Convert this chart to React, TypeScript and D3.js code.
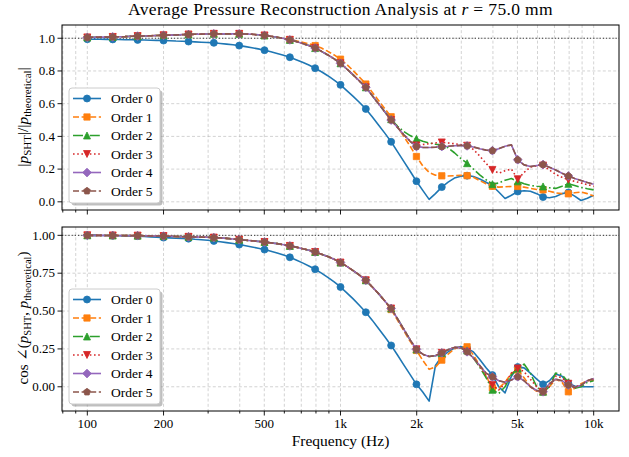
import React from 'react';
import * as d3 from 'd3';

// ---- data -------------------------------------------------------------
const orderLabels = ['Order 0', 'Order 1', 'Order 2', 'Order 3', 'Order 4', 'Order 5'];

// analysis frequencies (Hz), 40 per decade; every 4th one carries a marker
const freqs = [
  100, 106, 112, 119, 126, 133, 141, 150, 158, 168, 178, 188, 200, 211, 224, 237, 251, 266, 282, 299,
  316, 335, 355, 376, 398, 422, 447, 473, 501, 531, 562, 596, 631, 668, 708, 750, 794, 841, 891, 944,
  1000, 1059, 1122, 1189, 1259, 1334, 1413, 1496, 1585, 1679, 1778, 1884, 1995, 2113, 2239, 2371, 2512, 2661, 2818, 2985,
  3162, 3350, 3548, 3758, 3981, 4217, 4467, 4732, 5012, 5309, 5623, 5957, 6310, 6683, 7079, 7499, 7943, 8414, 8913, 9441,
  10000,
];

// |p_SHT| / |p_theoretical|
const magOrder0 = [
  .994, .994, .994, .993, .993, .992, .991, .991, .990, .989, .988, .987, .986, .985, .983, .982, .980, .978, .976, .974,
  .972, .968, .964, .960, .955, .949, .942, .935, .927, .917, .907, .896, .884, .869, .853, .836, .817, .795, .771, .744,
  .715, .680, .645, .607, .568, .520, .470, .420, .367, .307, .247, .187, .126, .070, .015, .050, .090, .120, .145, .157,
  .160, .155, .140, .120, .098, .060, .020, .040, .063, .068, .065, .050, .029, .025, .032, .050, .057, .035, .008, .022,
  .040,
];
const magOrder1 = [
  1.005, 1.006, 1.007, 1.007, 1.008, 1.009, 1.010, 1.012, 1.013, 1.014, 1.015, 1.017, 1.018, 1.019, 1.020, 1.022, 1.023, 1.024, 1.025, 1.026,
  1.027, 1.027, 1.027, 1.027, 1.027, 1.026, 1.024, 1.021, 1.017, 1.012, 1.006, .999, .992, .984, .975, .966, .955, .940, .920, .898,
  .872, .840, .802, .762, .720, .670, .620, .570, .520, .460, .400, .340, .277, .220, .180, .163, .159, .158, .160, .162,
  .160, .150, .130, .110, .095, .090, .092, .094, .094, .090, .082, .075, .073, .065, .055, .050, .049, .055, .060, .050,
  .035,
];
const magOrder2 = [
  1.005, 1.006, 1.007, 1.007, 1.008, 1.009, 1.010, 1.012, 1.013, 1.014, 1.015, 1.017, 1.018, 1.019, 1.020, 1.022, 1.023, 1.024, 1.025, 1.026,
  1.027, 1.027, 1.027, 1.027, 1.027, 1.026, 1.024, 1.021, 1.017, 1.012, 1.006, .999, .990, .980, .968, .955, .940, .920, .898, .874,
  .847, .812, .776, .738, .700, .650, .600, .550, .505, .462, .430, .405, .385, .370, .360, .352, .348, .330, .300, .265,
  .236, .200, .165, .135, .108, .115, .132, .142, .125, .110, .100, .095, .094, .086, .082, .095, .110, .100, .088, .080,
  .073,
];
const magOrder3 = [
  1.005, 1.006, 1.007, 1.007, 1.008, 1.009, 1.010, 1.012, 1.013, 1.014, 1.015, 1.017, 1.018, 1.019, 1.020, 1.022, 1.023, 1.024, 1.025, 1.026,
  1.027, 1.027, 1.027, 1.027, 1.027, 1.026, 1.024, 1.021, 1.017, 1.012, 1.006, .999, .990, .980, .968, .955, .940, .920, .898, .874,
  .847, .812, .776, .738, .700, .650, .600, .550, .500, .455, .410, .372, .345, .350, .355, .360, .363, .360, .355, .350,
  .343, .320, .280, .235, .195, .175, .190, .200, .138, .180, .212, .220, .222, .195, .168, .150, .135, .125, .115, .105,
  .095,
];
const magOrder4 = [
  1.005, 1.006, 1.007, 1.007, 1.008, 1.009, 1.010, 1.012, 1.013, 1.014, 1.015, 1.017, 1.018, 1.019, 1.020, 1.022, 1.023, 1.024, 1.025, 1.026,
  1.027, 1.027, 1.027, 1.027, 1.027, 1.026, 1.024, 1.021, 1.017, 1.012, 1.006, .999, .990, .980, .968, .955, .940, .920, .898, .874,
  .847, .812, .776, .738, .700, .650, .600, .550, .500, .455, .410, .370, .338, .333, .332, .334, .338, .340, .343, .345,
  .342, .335, .325, .316, .313, .325, .340, .348, .257, .226, .216, .222, .228, .212, .195, .175, .158, .142, .130, .118,
  .108,
];
const magOrder5 = [
  1.005, 1.006, 1.007, 1.007, 1.008, 1.009, 1.010, 1.012, 1.013, 1.014, 1.015, 1.017, 1.018, 1.019, 1.020, 1.022, 1.023, 1.024, 1.025, 1.026,
  1.027, 1.027, 1.027, 1.027, 1.027, 1.026, 1.024, 1.021, 1.017, 1.012, 1.006, .999, .990, .980, .968, .955, .940, .920, .898, .874,
  .847, .812, .776, .738, .700, .650, .600, .550, .500, .455, .410, .370, .338, .333, .332, .334, .338, .340, .343, .345,
  .342, .335, .325, .316, .313, .325, .340, .348, .257, .226, .216, .222, .228, .212, .195, .175, .158, .142, .130, .118,
  .108,
];

// cos of the angle between p_SHT and p_theoretical
const cosOrder0 = [
  1.000, 1.000, .999, .999, .998, .997, .996, .996, .995, .993, .990, .988, .985, .983, .981, .980, .978, .974, .971, .967,
  .963, .958, .952, .946, .939, .931, .923, .915, .906, .895, .883, .870, .855, .837, .818, .798, .776, .750, .722, .692,
  .659, .620, .580, .537, .492, .440, .385, .330, .273, .210, .145, .080, .016, -.035, -.095, .140, .200, .230, .255, .265,
  .255, .230, .180, .125, .077, .000, -.040, .070, .130, .125, .090, .050, .016, .040, .085, .070, .022, .005, .000, .000,
  .000,
];
const cosOrder1 = [
  1.000, 1.000, 1.000, .999, .999, .999, .998, .998, .998, .997, .996, .996, .995, .994, .992, .991, .990, .989, .988, .987,
  .985, .983, .980, .976, .971, .968, .964, .960, .956, .950, .945, .938, .930, .922, .912, .902, .890, .875, .860, .842,
  .820, .795, .767, .737, .703, .660, .615, .567, .510, .440, .370, .300, .240, .175, .115, .130, .176, .215, .250, .265,
  .264, .210, .140, .070, -.007, -.010, .030, .090, .110, .060, .000, -.030, -.033, .000, .050, .030, -.033, -.010, .020, .040,
  .045,
];
const cosOrder2 = [
  1.000, 1.000, 1.000, .999, .999, .999, .998, .998, .998, .997, .996, .996, .995, .994, .992, .991, .990, .989, .988, .987,
  .985, .983, .980, .976, .971, .968, .964, .960, .956, .950, .945, .938, .930, .922, .912, .902, .890, .875, .860, .842,
  .820, .795, .767, .737, .703, .660, .615, .567, .517, .450, .380, .310, .247, .215, .200, .205, .224, .245, .258, .256,
  .240, .190, .130, .060, -.020, -.045, .000, .080, .120, .150, .090, .000, -.033, .000, .090, .080, .030, -.010, .000, .030,
  .040,
];
const cosOrder3 = [
  1.000, 1.000, 1.000, .999, .999, .999, .998, .998, .998, .997, .996, .996, .995, .994, .992, .991, .990, .989, .988, .987,
  .985, .983, .980, .976, .971, .968, .964, .960, .956, .950, .945, .938, .930, .922, .912, .902, .890, .875, .860, .842,
  .820, .795, .767, .737, .703, .660, .615, .567, .517, .450, .380, .310, .247, .215, .200, .205, .224, .245, .260, .258,
  .231, .190, .135, .075, .011, -.020, .020, .090, .121, .100, .050, .000, -.033, .000, .070, .060, .020, .000, .010, .040,
  .050,
];
const cosOrder4 = [
  1.000, 1.000, 1.000, .999, .999, .999, .998, .998, .998, .997, .996, .996, .995, .994, .992, .991, .990, .989, .988, .987,
  .985, .983, .980, .976, .971, .968, .964, .960, .956, .950, .945, .938, .930, .922, .912, .902, .890, .875, .860, .842,
  .820, .795, .767, .737, .703, .660, .615, .567, .517, .450, .380, .310, .247, .215, .200, .205, .224, .245, .260, .258,
  .231, .190, .140, .090, .066, .040, .030, .045, .066, .040, .000, -.025, -.033, .020, .050, .040, .011, -.005, .010, .040,
  .055,
];
const cosOrder5 = cosOrder4.slice();

const magSeries = [magOrder0, magOrder1, magOrder2, magOrder3, magOrder4, magOrder5];
const cosSeries = [cosOrder0, cosOrder1, cosOrder2, cosOrder3, cosOrder4, cosOrder5];

const xMajorTicks = [100, 200, 500, 1000, 2000, 5000, 10000];
const xMajorLabels = ['100', '200', '500', '1k', '2k', '5k', '10k'];
const xMinorTicks = [80, 90, 300, 400, 600, 700, 800, 900, 3000, 4000, 6000, 7000, 8000, 9000];
const magTicks = [0, 0.2, 0.4, 0.6, 0.8, 1.0];
const cosTicks = [0, 0.25, 0.5, 0.75, 1.0];

// ---- look -------------------------------------------------------------
const W = 629, H = 457;
const LEFT = 62, RIGHT = 619;
const FONT = "'Liberation Serif', 'DejaVu Serif', serif";
const MS = 7; // marker size px
const MARK_EVERY = 4;

type Sym = { draw: (ctx: any, size: number) => void };
const circle: Sym = { draw(ctx, s) { const r = Math.sqrt(s) / 2; ctx.moveTo(r, 0); ctx.arc(0, 0, r, 0, 2 * Math.PI); } };
const square: Sym = { draw(ctx, s) { const r = Math.sqrt(s) / 2 * 0.9; ctx.rect(-r, -r, 2 * r, 2 * r); } };
const triUp: Sym = { draw(ctx, s) { const r = Math.sqrt(s) / 2; ctx.moveTo(0, -r); ctx.lineTo(r, r); ctx.lineTo(-r, r); ctx.closePath(); } };
const triDown: Sym = { draw(ctx, s) { const r = Math.sqrt(s) / 2; ctx.moveTo(0, r); ctx.lineTo(r, -r); ctx.lineTo(-r, -r); ctx.closePath(); } };
const diamond: Sym = { draw(ctx, s) { const h = Math.sqrt(s) / 2 * 1.25; ctx.moveTo(0, -h); ctx.lineTo(h, 0); ctx.lineTo(0, h); ctx.lineTo(-h, 0); ctx.closePath(); } };
const pentagon: Sym = {
  draw(ctx, s) {
    const r = Math.sqrt(s) / 2 * 1.05;
    for (let k = 0; k < 5; k++) {
      const a = -Math.PI / 2 + (k * 2 * Math.PI) / 5;
      if (k === 0) ctx.moveTo(r * Math.cos(a), r * Math.sin(a));
      else ctx.lineTo(r * Math.cos(a), r * Math.sin(a));
    }
    ctx.closePath();
  },
};

const styles = [
  { color: '#1f77b4', dash: undefined, sym: circle },
  { color: '#ff7f0e', dash: '6,2.6', sym: square },
  { color: '#2ca02c', dash: '10,2.6,1.6,2.6', sym: triUp },
  { color: '#d62728', dash: '1.6,2.6', sym: triDown },
  { color: '#9467bd', dash: undefined, sym: diamond },
  { color: '#8c564b', dash: '6,2.6', sym: pentagon },
];

const symPath = (sym: Sym) => d3.symbol().type(sym as any).size(MS * MS)() as string;

const x = d3.scaleLog().domain([Math.pow(10, 1.9), Math.pow(10, 4.1)]).range([LEFT, RIGHT]);

function Panel({ top, bottom, yDomain, yTicks, yFmt, series, showXLabels, id }: any) {
  const y = d3.scaleLinear().domain(yDomain).range([bottom, top]);
  const line = d3.line<number>().x((_, i) => x(freqs[i])).y(d => y(d));
  const legH = 115;
  const legTop = bottom - 7 - legH;
  const legLeft = 69, legW = 91;
  return (
    <g>
      <defs>
        <clipPath id={id}>
          <rect x={LEFT} y={top} width={RIGHT - LEFT} height={bottom - top} />
        </clipPath>
      </defs>
      {/* grid */}
      <g stroke="#b0b0b0" strokeOpacity={0.7} strokeWidth={0.8} strokeDasharray="3,2.2">
        {[...xMajorTicks, ...xMinorTicks].map(t => (
          <line key={'gx' + t} x1={x(t)} x2={x(t)} y1={top} y2={bottom} />
        ))}
        {yTicks.map((t: number) => (
          <line key={'gy' + t} x1={LEFT} x2={RIGHT} y1={y(t)} y2={y(t)} />
        ))}
      </g>
      {/* reference */}
      <line x1={LEFT} x2={RIGHT} y1={y(1)} y2={y(1)} stroke="#333" strokeWidth={1} strokeDasharray="1.2,2" />
      <g clipPath={`url(#${id})`}>
        {series.map((vals: number[], k: number) => (
          <g key={k}>
            <path d={line(vals) as string} fill="none" stroke={styles[k].color} strokeWidth={1.6}
              strokeDasharray={styles[k].dash} strokeLinejoin="round" />
            {vals.map((v, i) => (i % MARK_EVERY === 0 && i < vals.length - 1) ? (
              <path key={i} d={symPath(styles[k].sym)} transform={`translate(${x(freqs[i])},${y(v)})`}
                fill={styles[k].color} stroke={styles[k].color} strokeWidth={0.8} />
            ) : null)}
          </g>
        ))}
      </g>
      {/* spines */}
      <rect x={LEFT} y={top} width={RIGHT - LEFT} height={bottom - top} fill="none" stroke="#000" strokeWidth={1} />
      {/* x ticks */}
      <g stroke="#000" strokeWidth={0.9}>
        {xMajorTicks.map(t => <line key={'mx' + t} x1={x(t)} x2={x(t)} y1={bottom} y2={bottom + 4.5} />)}
        {xMinorTicks.map(t => <line key={'nx' + t} x1={x(t)} x2={x(t)} y1={bottom} y2={bottom + 2.5} />)}
        {yTicks.map((t: number) => <line key={'my' + t} x1={LEFT - 4.5} x2={LEFT} y1={y(t)} y2={y(t)} />)}
      </g>
      <g fontFamily={FONT} fontSize={13} fill="#000">
        {yTicks.map((t: number) => (
          <text key={'ly' + t} x={LEFT - 7} y={y(t) + 4.3} textAnchor="end">{yFmt(t)}</text>
        ))}
        {showXLabels && xMajorTicks.map((t, i) => (
          <text key={'lx' + t} x={x(t)} y={bottom + 17} textAnchor="middle">{xMajorLabels[i]}</text>
        ))}
      </g>
      {/* legend */}
      <rect x={legLeft + 2.5} y={legTop + 2.5} width={legW} height={legH} rx={3} fill="#7f7f7f" fillOpacity={0.5} />
      <rect x={legLeft} y={legTop} width={legW} height={legH} rx={3} fill="#fff" stroke="#cccccc" strokeWidth={1} />
      {orderLabels.map((lab, k) => {
        const ry = legTop + 10.5 + k * 18.5;
        return (
          <g key={lab}>
            <line x1={legLeft + 4} x2={legLeft + 32} y1={ry} y2={ry} stroke={styles[k].color} strokeWidth={1.6}
              strokeDasharray={styles[k].dash} />
            <path d={symPath(styles[k].sym)} transform={`translate(${legLeft + 18},${ry})`}
              fill={styles[k].color} stroke={styles[k].color} strokeWidth={0.8} />
            <text x={legLeft + 42} y={ry + 4.5} fontFamily={FONT} fontSize={13.5}>{lab}</text>
          </g>
        );
      })}
    </g>
  );
}

export default function App() {
  return (
    <svg width={W} height={H} style={{ position: 'absolute', left: 0, top: 0, background: '#fff' }}>
      <text x={(LEFT + RIGHT) / 2} y={15} textAnchor="middle" fontFamily={FONT} fontSize={17.5} letterSpacing={0.35}>
        Average Pressure Reconstruction Analysis at <tspan fontStyle="italic">r</tspan> = 75.0 mm
      </text>
      <Panel id="clipTop" top={25} bottom={210} yDomain={[-0.05, 1.081]} yTicks={magTicks}
        yFmt={(t: number) => t.toFixed(1)} series={magSeries} showXLabels={false} />
      <Panel id="clipBot" top={227} bottom={411} yDomain={[-0.16, 1.055]} yTicks={cosTicks}
        yFmt={(t: number) => t.toFixed(2)} series={cosSeries} showXLabels={true} />
      <text transform="translate(28,117) rotate(-90)" textAnchor="middle" fontFamily={FONT} fontSize={15.5}>
        |<tspan fontStyle="italic">p</tspan><tspan fontSize={11} dy={3}>SHT</tspan><tspan dy={-3}>|/|</tspan>
        <tspan fontStyle="italic">p</tspan><tspan fontSize={11} dy={3}>theoretical</tspan><tspan dy={-3}>|</tspan>
      </text>
      <text transform="translate(28,318) rotate(-90)" textAnchor="middle" fontFamily={FONT} fontSize={15}>
        cos ∠(<tspan fontStyle="italic">p</tspan><tspan fontSize={10.5} dy={3}>SHT</tspan><tspan dy={-3}>, </tspan>
        <tspan fontStyle="italic">p</tspan><tspan fontSize={10.5} dy={3}>theoretical</tspan><tspan dy={-3}>)</tspan>
      </text>
      <text x={(LEFT + RIGHT) / 2} y={446} textAnchor="middle" fontFamily={FONT} fontSize={15.5}>Frequency (Hz)</text>
    </svg>
  );
}
